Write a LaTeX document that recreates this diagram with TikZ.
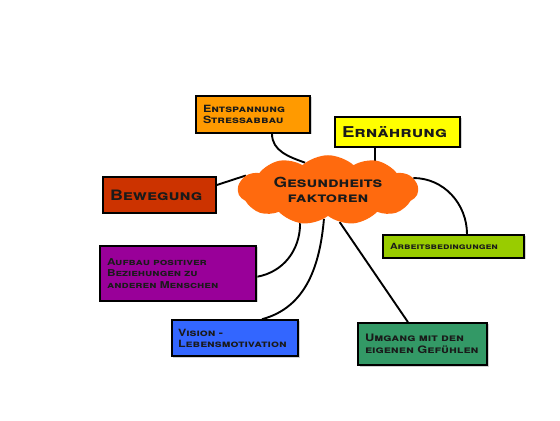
\documentclass[tikz,border=0pt]{standalone}
\usepackage{fontspec}
\setmainfont[FakeStretch=1.25]{TeX Gyre Heros}
\usepackage{tikz}
\usetikzlibrary{shapes.symbols,shadows,backgrounds}
\definecolor{hubfill}{HTML}{FF6A0E}
\definecolor{entfill}{HTML}{FF9A00}
\definecolor{ernfill}{HTML}{FFFF00}
\definecolor{bewfill}{HTML}{CC3300}
\definecolor{arbfill}{HTML}{99CC00}
\definecolor{auffill}{HTML}{990099}
\definecolor{visfill}{HTML}{3366FF}
\definecolor{umgfill}{HTML}{339966}
\definecolor{ink}{HTML}{1A1A1A}

\begin{document}
\begin{tikzpicture}[x=1bp, y=1bp,
          line/.style={line width=1.9pt, black},
          topic/.style={draw=black, line width=1.6pt, text=ink, inner xsep=7bp, align=left,
                        font=\bfseries\scshape\fontsize{10}{11}\selectfont,
                        drop shadow={shadow xshift=1.5pt, shadow yshift=-1.5pt, fill=black!35}},
          hub/.style={cloud, cloud puffs=11, cloud puff arc=85, aspect=2.8, fill=hubfill, text=ink,
                      minimum width=180bp, minimum height=64bp, align=center, inner sep=0pt,
                      font=\bfseries\scshape\fontsize{14}{15}\selectfont}
        ]
          \node[hub] (hub) at (328,230) {Gesundheits\\faktoren};

          \node[topic, fill=entfill, text width=100bp, minimum height=37bp] (ent) at (253,305.5) {Entspannung\\Stressabbau};
          \node[topic, fill=ernfill, text width=111bp, minimum height=30bp,
                font=\bfseries\scshape\fontsize{15}{16}\selectfont] (ern) at (397.5,288) {Ernährung};
          \node[topic, fill=bewfill, text width=99bp, minimum height=36bp,
                font=\bfseries\scshape\fontsize{14.4}{15}\selectfont] (bew) at (159.5,225) {Bewegung};
          \node[topic, fill=arbfill, text width=127bp, minimum height=23bp,
                font=\bfseries\scshape\fontsize{8.5}{10}\selectfont] (arb) at (453.5,173.5) {Arbeitsbedingungen};
          \node[topic, fill=auffill, text width=142bp, minimum height=55bp,
                font=\bfseries\scshape\fontsize{9.5}{11.5}\selectfont] (auf) at (178,146.5) {Aufbau positiver\\Beziehungen zu\\anderen Menschen};
          \node[topic, fill=visfill, text width=114bp, minimum height=36bp, inner xsep=6bp] (vis) at (235,82) {Vision -\\Lebensmotivation};
          \node[topic, fill=umgfill, text width=115bp, minimum height=42bp,
                font=\bfseries\scshape\fontsize{10.3}{12}\selectfont] (umg) at (422.5,76) {Umgang mit den\\eigenen Gefühlen};

          \begin{pgfonlayer}{background}
            \fill[white] (0,0) rectangle (560,420);
            \draw[line] ([xshift=19bp]ent.south) to[out=-90, in=160] (hub.130);
            \draw[line] ([xshift=-22.5bp]ern.south) -- ([xshift=-22.5bp]ern.south |- hub.center);
            \draw[line] ([yshift=10bp]bew.east) -- (hub.170);
            \draw[line] (hub.8) to[out=0, in=90] ([xshift=13.5bp]arb.north);
            \draw[line] (hub.230) to[out=-90, in=10] ([yshift=25bp]auf.south east);
            \draw[line] (hub.262) to[out=-95, in=15] ([xshift=27bp]vis.north);
            \draw[line] (hub.290) -- ([xshift=-14.5bp]umg.north);
          \end{pgfonlayer}
        \end{tikzpicture}
\end{document}
